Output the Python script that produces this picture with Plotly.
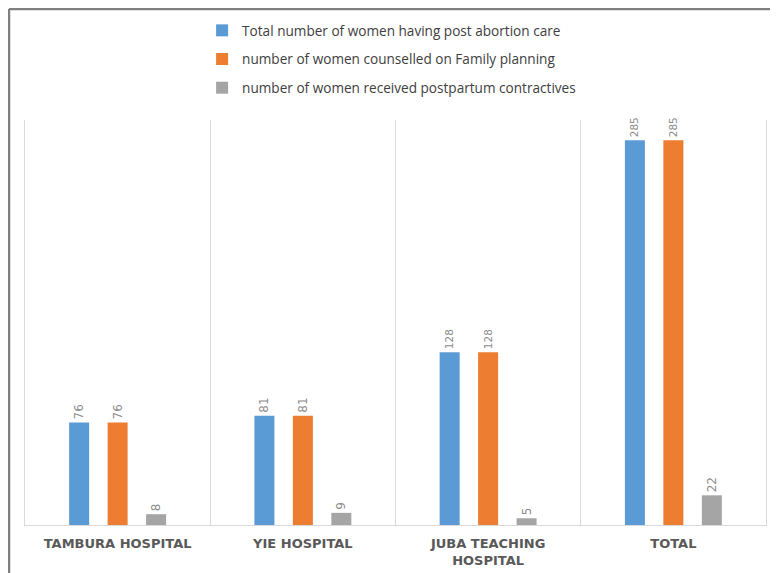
import plotly.graph_objects as go

categories = ["TAMBURA HOSPITAL", "YIE HOSPITAL", "JUBA TEACHING<br>HOSPITAL", "TOTAL"]
series_names = [
    "Total number of women having post abortion care",
    "number of women counselled on Family planning",
    "number of women received postpartum contractives",
]
post_abortion = [76, 81, 128, 285]
counselled_fp = [76, 81, 128, 285]
postpartum = [8, 9, 5, 22]
colors = ["#5b9bd5", "#ed7d31", "#a5a5a5"]

fig = go.Figure()
for i, (name, vals) in enumerate(zip(series_names, [post_abortion, counselled_fp, postpartum])):
    fig.add_trace(go.Bar(
        x=categories, y=vals, name=name,
        marker=dict(color=colors[i], line=dict(width=0)),
        text=[str(v) for v in vals], textposition="outside", textangle=-90,
        textfont=dict(family="DejaVu Sans", size=12, color="#8c8c8c"),
        cliponaxis=False, legendgroup=f"g{i}",
    ))

# page body has an 8px margin, so the figure is sized to fit the window
fig.update_layout(
    width=770, height=565,
    margin=dict(l=17, r=12, t=112, b=48, autoexpand=False),
    paper_bgcolor="white", plot_bgcolor="white",
    barmode="group", bargap=0.377, bargroupgap=0.48,
    font=dict(family="Open Sans", color="#404040"),
    showlegend=True,
    legend=dict(
        orientation="v", x=0.239, xanchor="left", xref="paper",
        y=0.9876, yanchor="top", yref="container",
        font=dict(family="Open Sans", size=13.6, color="#404040"),
        tracegroupgap=8, itemwidth=30, bgcolor="rgba(0,0,0,0)",
    ),
    xaxis=dict(
        showgrid=True, gridcolor="#d9d9d9", gridwidth=1, tickson="boundaries",
        showline=True, linecolor="#d9d9d9", linewidth=1, ticks="",
        ticklabelstandoff=6, automargin=False,
        tickfont=dict(family="DejaVu Sans", size=13, color="#595959", weight="bold"),
        fixedrange=True,
    ),
    yaxis=dict(range=[0, 300], showgrid=False, zeroline=False, showticklabels=False,
               showline=True, mirror=True, linecolor="#d9d9d9", linewidth=1,
               automargin=False, fixedrange=True),
    shapes=[
        dict(type="line", xref="paper", yref="paper", x0=-0.0216, x1=1.02, y0=1.2741, y1=1.2741,
             line=dict(color="#7f7f7f", width=2.5)),
        dict(type="line", xref="paper", yref="paper", x0=-0.0216, x1=-0.0216, y0=-0.2, y1=1.2741,
             line=dict(color="#7f7f7f", width=2.5)),
    ],
)

fig.write_html("out.html")
